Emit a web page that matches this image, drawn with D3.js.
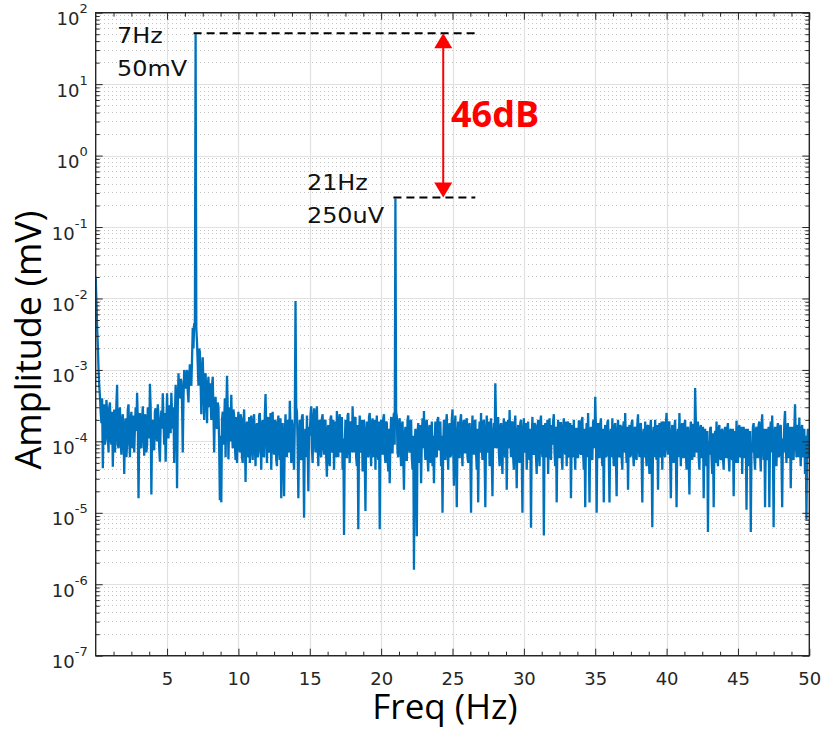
<!DOCTYPE html>
<html>
<head>
<meta charset="utf-8">
<script src="https://cdn.jsdelivr.net/npm/d3@7/dist/d3.min.js"></script>
<style>
  html, body { margin: 0; padding: 0; background: #fff; }
  svg { display: block; }
</style>
</head>
<body>
<svg id="chart" width="827" height="729"></svg>
<script>
// Spectrum bins: frequency of bin i is freqStart + i * freqStep (Hz)
const freqStart = 0;
const freqStep = 0.05;

// Amplitude of each bin in nV, one row per Hz; bins holding a tone are 0 here
// and take their value from toneAmp_mV
const amplitude_nV = [
  20000, 9000, 4000, 2200, 1000, 600, 420, 250, 180, 400, 42, 150, 330, 90, 110, 380, 260, 120, 70, 300,
  350, 110, 90, 260, 44, 150, 280, 70, 120, 330, 620, 90, 80, 250, 300, 100, 65, 200, 240, 130,
  35, 160, 210, 60, 90, 280, 330, 110, 60, 190, 260, 80, 110, 230, 70, 160, 300, 140, 480, 200,
  16, 120, 250, 90, 80, 200, 310, 150, 63, 240, 220, 70, 90, 300, 280, 110, 640, 300, 18, 150,
  200, 90, 75, 260, 290, 120, 100, 330, 230, 80, 52, 180, 270, 150, 470, 200, 90, 250, 52, 160,
  470, 180, 110, 280, 320, 130, 480, 250, 150, 300, 50, 220, 620, 400, 22, 300, 900, 500, 400, 750,
  700, 350, 70, 400, 1000, 600, 550, 900, 1000, 500, 350, 800, 1200, 700, 600, 1400, 3900, 2000, 4500, 4000,
  0, 3800, 2400, 1200, 600, 2000, 1780, 700, 240, 900, 1500, 600, 200, 700, 900, 450, 180, 550, 800, 300,
  650, 380, 200, 600, 800, 250, 70, 300, 420, 180, 150, 350, 300, 90, 15, 120, 14, 200, 260, 90,
  180, 400, 60, 250, 830, 300, 56, 180, 300, 100, 450, 150, 80, 280, 230, 90, 55, 220, 50, 170,
  260, 90, 70, 240, 210, 60, 50, 180, 280, 120, 27, 130, 190, 70, 60, 220, 50, 150, 230, 80,
  55, 190, 240, 90, 45, 160, 180, 60, 70, 230, 250, 100, 40, 170, 200, 65, 60, 240, 460, 150,
  50, 180, 220, 70, 80, 250, 40, 120, 260, 90, 65, 200, 190, 55, 45, 170, 230, 80, 55, 210,
  16, 140, 180, 60, 17, 120, 240, 90, 60, 190, 200, 70, 370, 150, 50, 200, 160, 60, 40, 180,
  0, 300, 260, 90, 16, 110, 200, 60, 55, 220, 240, 80, 8.5, 120, 150, 60, 230, 90, 20, 160,
  120, 230, 310, 80, 50, 200, 290, 100, 70, 250, 310, 90, 45, 180, 200, 70, 60, 210, 240, 90,
  65, 190, 200, 60, 32, 150, 170, 55, 45, 210, 230, 70, 80, 200, 40, 130, 190, 60, 265, 120,
  60, 200, 240, 70, 90, 220, 40, 110, 4.9, 90, 200, 60, 60, 230, 250, 80, 50, 190, 180, 70,
  310, 120, 70, 210, 220, 60, 45, 170, 5.9, 100, 230, 70, 80, 200, 38, 150, 200, 60, 10.6, 130,
  190, 70, 60, 220, 250, 80, 45, 180, 210, 60, 80, 200, 40, 150, 230, 70, 55, 190, 5.9, 120,
  200, 80, 65, 210, 240, 70, 50, 190, 180, 60, 38, 150, 26, 110, 220, 70, 70, 200, 250, 90,
  0, 260, 220, 70, 60, 190, 210, 80, 45, 170, 190, 60, 21, 120, 160, 55, 55, 200, 230, 80,
  70, 190, 200, 60, 40, 120, 1.6, 80, 150, 40, 4.7, 130, 180, 60, 50, 170, 26, 110, 210, 80,
  265, 90, 55, 180, 200, 60, 38, 150, 170, 50, 65, 190, 45, 120, 26, 100, 190, 70, 60, 200,
  220, 80, 75, 190, 45, 120, 10, 90, 200, 70, 55, 180, 240, 80, 40, 160, 180, 60, 65, 200,
  280, 90, 24, 150, 230, 70, 12, 110, 190, 60, 60, 200, 240, 80, 45, 170, 200, 70, 70, 190,
  210, 60, 50, 170, 180, 60, 10, 120, 230, 80, 65, 190, 200, 70, 40, 150, 14, 100, 190, 70,
  250, 90, 55, 180, 200, 60, 12, 130, 230, 70, 75, 190, 45, 150, 210, 60, 17, 120, 180, 80,
  650, 200, 80, 170, 220, 70, 45, 160, 180, 60, 35, 150, 210, 70, 60, 190, 21, 110, 200, 80,
  275, 100, 60, 180, 190, 60, 40, 170, 230, 80, 22, 120, 170, 60, 50, 180, 200, 70, 10, 130,
  210, 80, 70, 180, 40, 120, 190, 60, 55, 150, 6.2, 110, 220, 70, 65, 180, 170, 60, 35, 150,
  200, 70, 45, 180, 230, 80, 60, 170, 4.8, 120, 180, 60, 70, 200, 35, 130, 210, 70, 55, 170,
  90, 190, 240, 70, 45, 160, 14, 110, 200, 60, 60, 180, 180, 60, 40, 150, 210, 80, 65, 190,
  45, 160, 190, 60, 70, 180, 16, 120, 170, 60, 200, 80, 40, 150, 150, 60, 60, 190, 190, 70,
  65, 180, 220, 70, 40, 150, 12, 110, 180, 60, 250, 90, 14, 130, 160, 60, 55, 190, 200, 80,
  420, 150, 10, 120, 180, 60, 60, 170, 210, 70, 45, 150, 14, 110, 170, 60, 65, 180, 200, 70,
  14, 120, 150, 60, 210, 80, 45, 160, 180, 60, 17, 130, 200, 70, 60, 170, 160, 60, 40, 150,
  190, 70, 250, 90, 50, 160, 21, 120, 170, 60, 65, 180, 200, 70, 45, 150, 160, 60, 55, 170,
  240, 80, 60, 170, 180, 60, 14, 120, 150, 60, 190, 70, 45, 160, 170, 60, 35, 150, 200, 70,
  6.3, 110, 160, 60, 200, 70, 55, 170, 21, 110, 180, 60, 65, 190, 40, 140, 190, 70, 60, 170,
  250, 90, 65, 180, 190, 60, 16, 120, 170, 60, 50, 160, 200, 70, 12, 110, 150, 60, 250, 100,
  45, 160, 180, 60, 60, 170, 200, 70, 40, 150, 160, 60, 18, 120, 190, 70, 55, 170, 170, 60,
  560, 200, 70, 160, 190, 60, 40, 150, 170, 60, 60, 160, 16, 110, 150, 60, 45, 140, 5.4, 100,
  65, 150, 160, 60, 35, 130, 12, 100, 140, 50, 190, 70, 45, 150, 170, 60, 55, 140, 150, 60,
  40, 130, 160, 60, 60, 150, 180, 60, 38, 140, 150, 60, 55, 150, 17, 110, 140, 50, 195, 80,
  50, 150, 170, 60, 65, 160, 35, 130, 160, 60, 60, 150, 11, 100, 150, 55, 45, 140, 5.4, 90,
  70, 160, 180, 60, 40, 140, 160, 60, 60, 170, 190, 70, 38, 150, 240, 80, 55, 150, 12, 100,
  150, 60, 55, 160, 12, 120, 190, 70, 230, 90, 6.3, 110, 160, 60, 45, 150, 180, 60, 65, 160,
  170, 60, 12, 110, 70, 180, 265, 90, 50, 150, 180, 60, 60, 160, 22, 110, 160, 60, 55, 150,
  330, 110, 60, 170, 160, 60, 215, 80, 45, 150, 170, 60, 65, 150, 35, 120, 8, 90, 150, 60,
  140
];

// Tones: fundamental and harmonics (Hz, mV)
const toneFreq = [7, 14, 21];
const toneAmp_mV = [50, 0.0092, 0.25];

// Marked tones and their labels
const markFreq = [7, 21];
const markAmp_mV = [50, 0.25];
const markLabels = [["7Hz", "50mV"], ["21Hz", "250uV"]];
const ratioLabel = "46dB";

// Axis ticks
const xTicks = [5, 10, 15, 20, 25, 30, 35, 40, 45, 50];
const xMinorStep = 1.25;
const yDecades = [-7, -6, -5, -4, -3, -2, -1, 0, 1, 2];

const M = { left: 95.7, right: 809.3, top: 12.7, bottom: 655.7 };

const svg = d3.select("#chart");

const x = d3.scaleLinear().domain([0, 50]).range([M.left, M.right]);
const y = d3.scaleLog().domain([1e-7, 1e2]).range([M.bottom, M.top]);

// Build spectrum in mV
const spectrum = amplitude_nV.map((v, i) => ({ f: freqStart + i * freqStep, a: v / 1e6 }));
toneFreq.forEach((f, k) => {
  const i = Math.round((f - freqStart) / freqStep);
  spectrum[i].a = toneAmp_mV[k];
});

// Minor tick values
const xMinor = d3.range(0, 50 + 1e-9, xMinorStep).filter(v => Math.abs(v / 5 - Math.round(v / 5)) > 1e-6);
const yMinor = [];
yDecades.slice(0, -1).forEach(d => { for (let m = 2; m <= 9; m++) yMinor.push(m * Math.pow(10, d)); });
const yMajor = yDecades.map(d => Math.pow(10, d));

const axisColor = "#262626";

// Grid
const grid = svg.append("g");
grid.selectAll("line.yminor").data(yMinor).join("line")
  .attr("x1", M.left).attr("x2", M.right)
  .attr("y1", d => y(d)).attr("y2", d => y(d))
  .attr("stroke", "#c4c4c4").attr("stroke-width", 1)
  .attr("stroke-dasharray", "1,3")
  .attr("shape-rendering", "crispEdges");
grid.selectAll("line.ymajor").data(yMajor).join("line")
  .attr("x1", M.left).attr("x2", M.right)
  .attr("y1", d => Math.round(y(d)) + 0.5).attr("y2", d => Math.round(y(d)) + 0.5)
  .attr("stroke", "#e1e1e1").attr("stroke-width", 1.2);
grid.selectAll("line.xmajor").data(xTicks).join("line")
  .attr("y1", M.top).attr("y2", M.bottom)
  .attr("x1", d => Math.round(x(d)) + 0.5).attr("x2", d => Math.round(x(d)) + 0.5)
  .attr("stroke", "#e1e1e1").attr("stroke-width", 1.2);

// Spectrum trace
const line = d3.line().x(d => x(d.f)).y(d => y(d.a));
svg.append("defs").append("clipPath").attr("id", "plotClip")
  .append("rect").attr("x", M.left).attr("y", M.top)
  .attr("width", M.right - M.left).attr("height", M.bottom - M.top);
svg.append("path")
  .datum(spectrum)
  .attr("clip-path", "url(#plotClip)")
  .attr("d", line)
  .attr("fill", "none")
  .attr("stroke", "#0072BD")
  .attr("stroke-width", 2.3)
  .attr("stroke-linejoin", "miter")
  .attr("stroke-miterlimit", 2);

// Axes (ticks point inward, box on)
function styleAxis(g) {
  g.select(".domain").remove();
  g.selectAll(".tick line").attr("stroke", axisColor);
}
const fontTick = "DejaVu Sans, sans-serif";

svg.append("g").attr("transform", `translate(0,${M.bottom})`)
  .call(d3.axisBottom(x).tickValues(xMinor).tickSize(-4).tickFormat(""))
  .call(styleAxis);
svg.append("g").attr("transform", `translate(0,${M.top})`)
  .call(d3.axisTop(x).tickValues(xMinor).tickSize(-4).tickFormat(""))
  .call(styleAxis);
svg.append("g").attr("transform", `translate(0,${M.top})`)
  .call(d3.axisTop(x).tickValues(xTicks).tickSize(-7).tickFormat(""))
  .call(styleAxis);
const xAxis = svg.append("g").attr("transform", `translate(0,${M.bottom})`)
  .call(d3.axisBottom(x).tickValues(xTicks).tickSize(-7).tickPadding(17).tickFormat(d3.format("d")))
  .call(styleAxis);
xAxis.selectAll(".tick text")
  .attr("fill", axisColor).attr("font-family", fontTick).attr("font-size", 18);

svg.append("g").attr("transform", `translate(${M.left},0)`)
  .call(d3.axisLeft(y).tickValues(yMinor).tickSize(-4).tickFormat(""))
  .call(styleAxis);
svg.append("g").attr("transform", `translate(${M.right},0)`)
  .call(d3.axisRight(y).tickValues(yMinor).tickSize(-4).tickFormat(""))
  .call(styleAxis);
svg.append("g").attr("transform", `translate(${M.right},0)`)
  .call(d3.axisRight(y).tickValues(yMajor).tickSize(-7).tickFormat(""))
  .call(styleAxis);
const yAxis = svg.append("g").attr("transform", `translate(${M.left},0)`)
  .call(d3.axisLeft(y).tickValues(yMajor).tickSize(-7).tickFormat(""))
  .call(styleAxis);

// Decade labels 10^n
yAxis.selectAll(".tick").each(function (d) {
  const t = d3.select(this).append("text")
    .attr("x", -8).attr("y", 12)
    .attr("text-anchor", "end")
    .attr("fill", axisColor)
    .attr("font-family", fontTick).attr("font-size", 18);
  t.append("tspan").text("10");
  t.append("tspan").attr("dy", -12).attr("font-size", 13)
    .text(String(Math.round(Math.log10(d))));
});

// Plot box
svg.append("rect")
  .attr("x", M.left).attr("y", M.top)
  .attr("width", M.right - M.left).attr("height", M.bottom - M.top)
  .attr("fill", "none").attr("stroke", axisColor).attr("stroke-width", 1.4);

// Axis titles
const fontTitle = "'Open Sans', 'Noto Sans', sans-serif";
svg.append("text")
  .attr("x", 445).attr("y", 719)
  .attr("text-anchor", "middle")
  .attr("font-family", fontTitle).attr("font-size", 35)
  .attr("fill", "#000")
  .text("Freq (Hz)");
svg.append("text")
  .attr("transform", "translate(41,340) rotate(-90)")
  .attr("text-anchor", "middle")
  .attr("font-family", fontTitle).attr("font-size", 36)
  .attr("fill", "#000")
  .text("Amplitude (mV)");

// Reference levels of the marked tones
const refEnd = 26.6;
const ann = svg.append("g");
markFreq.forEach((f, k) => {
  ann.append("line")
    .attr("x1", x(f) - 2).attr("x2", x(refEnd))
    .attr("y1", y(markAmp_mV[k]) - 1).attr("y2", y(markAmp_mV[k]) - 1)
    .attr("stroke", "#000").attr("stroke-width", 2)
    .attr("stroke-dasharray", "8,5");
});

// Tone labels (DejaVu drawn slightly wide)
const labelFreq = [1.5, 14.8];
const labelBase = [43, 190];
markLabels.forEach((lines, k) => {
  const px = x(labelFreq[k]);
  lines.forEach((s, j) => {
    ann.append("text")
      .attr("transform", `translate(${px},${labelBase[k] + j * 33}) scale(1.14,1)`)
      .attr("font-family", fontTick).attr("font-size", 21)
      .attr("fill", "#111")
      .text(s);
  });
});

// Double arrow spanning the two levels
const ax = x(24.35);
const yTop = y(markAmp_mV[0]) - 1, yBot = y(markAmp_mV[1]) - 1;
const headH = 15, headW = 9;
ann.append("line")
  .attr("x1", ax).attr("x2", ax)
  .attr("y1", yTop + headH - 2).attr("y2", yBot - headH + 2)
  .attr("stroke", "#ff0000").attr("stroke-width", 2);
ann.append("path")
  .attr("d", `M${ax},${yTop} L${ax - headW},${yTop + headH} L${ax + headW},${yTop + headH} Z`)
  .attr("fill", "#ff0000");
ann.append("path")
  .attr("d", `M${ax},${yBot} L${ax - headW},${yBot - headH} L${ax + headW},${yBot - headH} Z`)
  .attr("fill", "#ff0000");
ann.append("text")
  .attr("x", 451).attr("y", 127)
  .attr("font-family", fontTitle).attr("font-weight", 700).attr("font-size", 36)
  .attr("fill", "#ff0000")
  .text(ratioLabel);
</script>
</body>
</html>
